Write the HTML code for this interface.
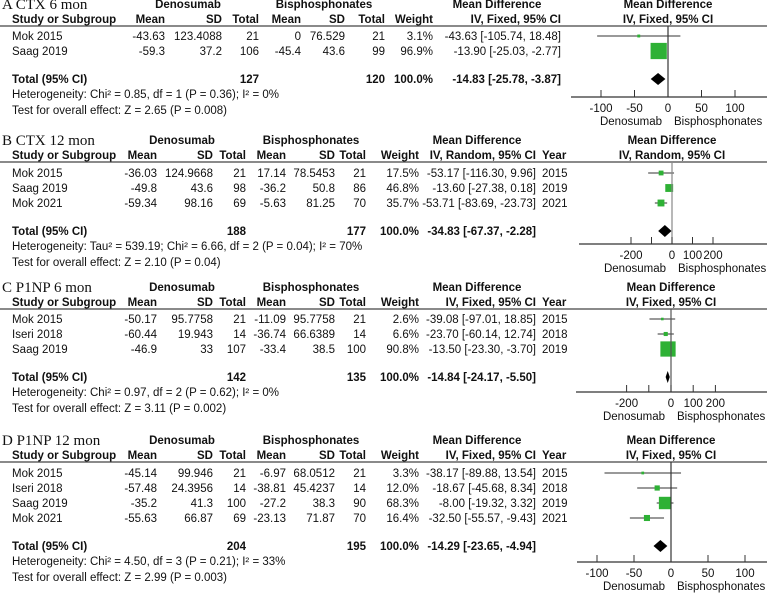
<!DOCTYPE html>
<html><head><meta charset="utf-8"><style>
html,body{margin:0;padding:0;background:#fff;}
svg{display:block;font-family:"Liberation Sans",Arial,sans-serif;}
.t{font-size:11.5px;fill:#111;}
.b{font-weight:bold;}
.ttl{font-family:"Liberation Serif",serif;font-size:15px;fill:#111;}
</style></head><body>
<svg id="c" width="777" height="593" viewBox="0 0 777 593" xmlns="http://www.w3.org/2000/svg"></svg>
<script>
// ---- Panel A data ----
const aStudies=["Mok 2015","Saag 2019"];
const aDMean=["-43.63","-59.3"],aDSD=["123.4088","37.2"],aDN=["21","106"];
const aBMean=["0","-45.4"],aBSD=["76.529","43.6"],aBN=["21","99"];
const aWeight=[3.1,96.9];
const aMD=[-43.63,-13.90],aLo=[-105.74,-25.03],aHi=[18.48,-2.77];
const aYears=[];
const aTotal=[-14.83,-25.78,-3.87];
const aTicks=[-100,-50,0,50,100],aTickLabels=["-100","-50","0","50","100"];
// ---- Panel B data ----
const bStudies=["Mok 2015","Saag 2019","Mok 2021"];
const bDMean=["-36.03","-49.8","-59.34"],bDSD=["124.9668","43.6","98.16"],bDN=["21","98","69"];
const bBMean=["17.14","-36.2","-5.63"],bBSD=["78.5453","50.8","81.25"],bBN=["21","86","70"];
const bWeight=[17.5,46.8,35.7];
const bMD=[-53.17,-13.60,-53.71],bLo=[-116.30,-27.38,-83.69],bHi=[9.96,0.18,-23.73];
const bYears=["2015","2019","2021"];
const bTotal=[-34.83,-67.37,-2.28];
const bTicks=[-200,-100,0,100,200],bTickLabels=["-200","","0","100","200"];
// ---- Panel C data ----
const cStudies=["Mok 2015","Iseri 2018","Saag 2019"];
const cDMean=["-50.17","-60.44","-46.9"],cDSD=["95.7758","19.943","33"],cDN=["21","14","107"];
const cBMean=["-11.09","-36.74","-33.4"],cBSD=["95.7758","66.6389","38.5"],cBN=["21","14","100"];
const cWeight=[2.6,6.6,90.8];
const cMD=[-39.08,-23.70,-13.50],cLo=[-97.01,-60.14,-23.30],cHi=[18.85,12.74,-3.70];
const cYears=["2015","2018","2019"];
const cTotal=[-14.84,-24.17,-5.50];
const cTicks=[-200,-100,0,100,200],cTickLabels=["-200","","0","100","200"];
// ---- Panel D data ----
const dStudies=["Mok 2015","Iseri 2018","Saag 2019","Mok 2021"];
const dDMean=["-45.14","-57.48","-35.2","-55.63"],dDSD=["99.946","24.3956","41.3","66.87"],dDN=["21","14","100","69"];
const dBMean=["-6.97","-38.81","-27.2","-23.13"],dBSD=["68.0512","45.4237","38.3","71.87"],dBN=["21","14","90","70"];
const dWeight=[3.3,12.0,68.3,16.4];
const dMD=[-38.17,-18.67,-8.00,-32.50],dLo=[-89.88,-45.68,-19.32,-55.57],dHi=[13.54,8.34,3.32,-9.43];
const dYears=["2015","2018","2019","2021"];
const dTotal=[-14.29,-23.65,-4.94];
const dTicks=[-100,-50,0,50,100],dTickLabels=["-100","-50","0","50","100"];

const svg=document.getElementById('c');
const NS="http://www.w3.org/2000/svg";
function el(tag,attrs,parent){const e=document.createElementNS(NS,tag);for(const k in attrs)e.setAttribute(k,attrs[k]);(parent||svg).appendChild(e);return e;}
function txt(x,y,s,cls,anchor,name,g){const e=el('text',{x:x,y:y,class:cls||'t','text-anchor':anchor||'start'},g);e.textContent=s;


return e;}
function fmt(v){return v.toFixed(2);}

function panel(p){
 const g=el('g',{});
 
 
 const y0=p.y0, c=p.cols;
 txt(2,y0+5,p.title,'ttl','start','panel-title',g);
 txt(c.den,y0+4,'Denosumab','t b','middle','denosumab-header',g);
 txt(c.bis,y0+4,'Bisphosphonates','t b','middle','bisphosphonates-header',g);
 txt(c.mdh,y0+4,'Mean Difference','t b','middle','mean-difference-header',g);
 txt(p.zeroX,y0+4,'Mean Difference','t b','middle','plot-header',g);
 const hy=y0+19;
 txt(12,hy,'Study or Subgroup','t b','start','study-column-header',g);
 txt(c.m1,hy,'Mean','t b','end','mean-header',g);
 txt(c.s1,hy,'SD','t b','end','sd-header',g);
 txt(c.n1,hy,'Total','t b','end','total-header',g);
 txt(c.m2,hy,'Mean','t b','end','mean-header',g);
 txt(c.s2,hy,'SD','t b','end','sd-header',g);
 txt(c.n2,hy,'Total','t b','end','total-header',g);
 txt(c.w,hy,'Weight','t b','end','weight-header',g);
 txt(c.md,hy,p.method,'t b','end','method-header',g);
 if(p.years.length) txt(c.yr,hy,'Year','t b','start','year-header',g);
 txt(p.zeroX,hy,p.method,'t b','middle','plot-method-header',g);
 const ln=el('line',{x1:0,x2:767,y1:hy+3,y2:hy+3,stroke:'#444','stroke-width':1.3},g);
 
 
 const sx=v=>p.zeroX+v*p.scale;
 const n=p.studies.length;
 for(let i=0;i<n;i++){
  const cy=p.rowY+i*15, by=cy+4;
  txt(12,by,p.studies[i],'t','start','study-name',g);
  txt(c.m1,by,p.dMean[i],'t','end','denosumab-mean',g);
  txt(c.s1,by,p.dSD[i],'t','end','denosumab-sd',g);
  txt(c.n1,by,p.dN[i],'t','end','denosumab-total',g);
  txt(c.m2,by,p.bMean[i],'t','end','bisphosphonates-mean',g);
  txt(c.s2,by,p.bSD[i],'t','end','bisphosphonates-sd',g);
  txt(c.n2,by,p.bN[i],'t','end','bisphosphonates-total',g);
  txt(c.w,by,p.weight[i].toFixed(1)+'%','t','end','weight-value',g);
  txt(c.md,by,fmt(p.md[i])+' ['+fmt(p.lo[i])+', '+fmt(p.hi[i])+']','t','end','mean-difference-value',g);
  if(p.years.length) txt(c.yr,by,p.years[i],'t','start','study-year',g);
  const ci=el('line',{x1:sx(p.lo[i]),x2:sx(p.hi[i]),y1:cy,y2:cy,stroke:'#333','stroke-width':1},g);
  
  
  const s=Math.max(2,Math.sqrt(p.weight[i])*p.boxK);
  const r=el('rect',{x:sx(p.md[i])-s/2,y:cy-s/2,width:s,height:s,fill:'#2eb135'},g);
  
  
 }
 const ty=p.rowY+(n-1)*15+28;
 txt(12,ty+4,'Total (95% CI)','t b','start','total-label',g);
 txt(c.n1,ty+4,p.totN1,'t b','end','denosumab-total-n',g);
 txt(c.n2,ty+4,p.totN2,'t b','end','bisphosphonates-total-n',g);
 txt(c.w,ty+4,'100.0%','t b','end','total-weight',g);
 txt(c.md,ty+4,fmt(p.total[0])+' ['+fmt(p.total[1])+', '+fmt(p.total[2])+']','t b','end','pooled-estimate',g);
 txt(12,ty+19,p.het,'t','start','heterogeneity-text',g);
 txt(12,ty+35,p.test,'t','start','overall-effect-text',g);
 const d=el('polygon',{points:[sx(p.total[1])+','+ty,sx(p.total[0])+','+(ty-6),sx(p.total[2])+','+ty,sx(p.total[0])+','+(ty+6)].join(' '),fill:'#000'},g);
 
 
 const ay=p.axisY;
 const zl=el('line',{x1:p.zeroX,x2:p.zeroX,y1:hy+3,y2:ay,stroke:p.zeroCol,'stroke-width':1.2},g);
 
 
 const ax=el('line',{x1:p.axL,x2:767,y1:ay,y2:ay,stroke:'#333','stroke-width':1.2},g);
 
 
 p.ticks.forEach((t,i)=>{
  const tk=el('line',{x1:sx(t),x2:sx(t),y1:ay,y2:ay-7,stroke:'#333','stroke-width':1},g);
  
  
  if(p.tickLabels[i]) txt(sx(t),ay+15,p.tickLabels[i],'t','middle','x-tick-label',g);
 });
 txt(p.zeroX-6,ay+28,'Denosumab','t','end','favours-denosumab-label',g);
 txt(p.zeroX+6,ay+28,'Bisphosphonates','t','start','favours-bisphosphonates-label',g);
}
const colsA={den:188,bis:324,mdh:497,m1:165,s1:222,n1:259,m2:301,s2:345,n2:385,w:433,md:561,yr:0};
const colsB={den:182,bis:311,mdh:477,m1:157,s1:213,n1:246,m2:286,s2:335,n2:366,w:419,md:536,yr:542};
panel({name:'panel-a-ctx-6-mon',y0:4,title:'A CTX 6 mon',cols:colsA,method:'IV, Fixed, 95% CI',studies:aStudies,dMean:aDMean,dSD:aDSD,dN:aDN,bMean:aBMean,bSD:aBSD,bN:aBN,weight:aWeight,md:aMD,lo:aLo,hi:aHi,years:aYears,total:aTotal,ticks:aTicks,tickLabels:aTickLabels,totN1:'127',totN2:'120',het:'Heterogeneity: Chi² = 0.85, df = 1 (P = 0.36); I² = 0%',test:'Test for overall effect: Z = 2.65 (P = 0.008)',rowY:36,zeroX:668,scale:0.67,boxK:1.65,axisY:97,axL:571,zeroCol:'#333'});
panel({name:'panel-b-ctx-12-mon',y0:140,title:'B CTX 12 mon',cols:colsB,method:'IV, Random, 95% CI',studies:bStudies,dMean:bDMean,dSD:bDSD,dN:bDN,bMean:bBMean,bSD:bBSD,bN:bBN,weight:bWeight,md:bMD,lo:bLo,hi:bHi,years:bYears,total:bTotal,ticks:bTicks,tickLabels:bTickLabels,totN1:'188',totN2:'177',het:'Heterogeneity: Tau² = 539.19; Chi² = 6.66, df = 2 (P = 0.04); I² = 70%',test:'Test for overall effect: Z = 2.10 (P = 0.04)',rowY:173,zeroX:672,scale:0.205,boxK:1.15,axisY:244,axL:579,zeroCol:'#888'});
panel({name:'panel-c-p1np-6-mon',y0:287,title:'C P1NP 6 mon',cols:colsB,method:'IV, Fixed, 95% CI',studies:cStudies,dMean:cDMean,dSD:cDSD,dN:cDN,bMean:cBMean,bSD:cBSD,bN:cBN,weight:cWeight,md:cMD,lo:cLo,hi:cHi,years:cYears,total:cTotal,ticks:cTicks,tickLabels:cTickLabels,totN1:'142',totN2:'135',het:'Heterogeneity: Chi² = 0.97, df = 2 (P = 0.62); I² = 0%',test:'Test for overall effect: Z = 3.11 (P = 0.002)',rowY:319,zeroX:671,scale:0.222,boxK:1.6,axisY:392,axL:576,zeroCol:'#555'});
panel({name:'panel-d-p1np-12-mon',y0:440,title:'D P1NP 12 mon',cols:colsB,method:'IV, Fixed, 95% CI',studies:dStudies,dMean:dDMean,dSD:dDSD,dN:dDN,bMean:dBMean,bSD:dBSD,bN:dBN,weight:dWeight,md:dMD,lo:dLo,hi:dHi,years:dYears,total:dTotal,ticks:dTicks,tickLabels:dTickLabels,totN1:'204',totN2:'195',het:'Heterogeneity: Chi² = 4.50, df = 3 (P = 0.21); I² = 33%',test:'Test for overall effect: Z = 2.99 (P = 0.003)',rowY:473,zeroX:671,scale:0.74,boxK:1.5,axisY:562,axL:577,zeroCol:'#333'});
</script>
</body></html>
